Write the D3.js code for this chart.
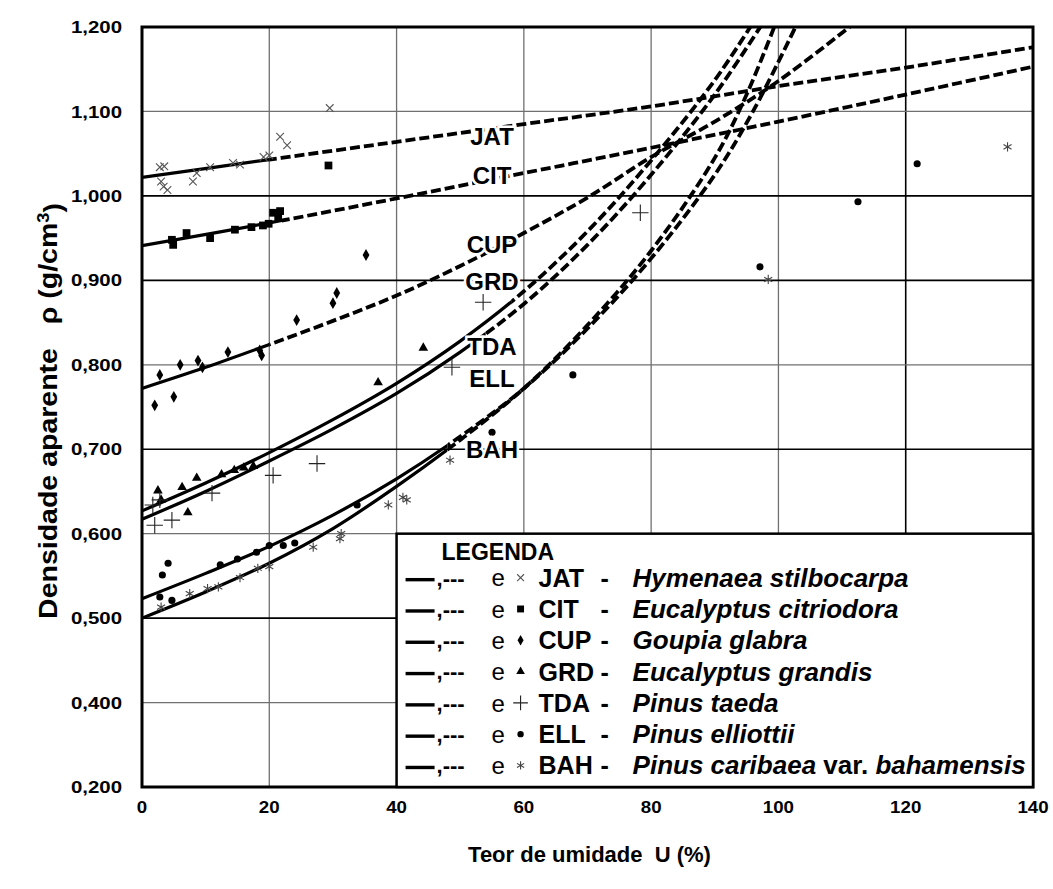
<!DOCTYPE html>
<html>
<head>
<meta charset="utf-8">
<script src="https://cdn.jsdelivr.net/npm/d3@7"></script>
<style>
  body { margin: 0; background: #fff; }
  text { font-family: "Liberation Sans", Arial, Helvetica, sans-serif; white-space: pre; }
</style>
</head>
<body>
<svg id="chart" width="1053" height="889"></svg>
<script>
// ---- species ----
const codes = ["JAT", "CIT", "CUP", "GRD", "TDA", "ELL", "BAH"];
const speciesNames = ["Hymenaea stilbocarpa", "Eucalyptus citriodora", "Goupia glabra",
  "Eucalyptus grandis", "Pinus taeda", "Pinus elliottii", "Pinus caribaea var. bahamensis"];

// ---- fitted curves: [moisture U (%), apparent density (g/cm3)] ----
const fitJAT = [[0,1.022],[20,1.043],[40,1.064],[60,1.085],[80,1.106],[100,1.130],[120,1.152],[140,1.176]];
const fitCIT = [[0,0.941],[20,0.968],[40,0.997],[60,1.027],[80,1.057],[100,1.088],[120,1.120],[140,1.153]];
const fitCUP = [[0,0.772],[10,0.797],[20,0.824],[30,0.852],[40,0.882],[50,0.917],[60,0.956],[70,0.998],[80,1.046],[90,1.088],[100,1.136],[112,1.205]];
const fitGRD = [[0,0.627],[10,0.660],[20,0.696],[30,0.735],[40,0.778],[50,0.828],[60,0.887],[70,0.958],[80,1.042],[90,1.137],[96,1.205]];
const fitTDA = [[0,0.617],[10,0.650],[20,0.686],[30,0.724],[40,0.766],[50,0.815],[60,0.872],[70,0.942],[80,1.025],[90,1.120],[98,1.210]];
const fitELL = [[0,0.523],[10,0.553],[20,0.585],[30,0.622],[40,0.665],[50,0.715],[60,0.772],[70,0.843],[80,0.926],[90,1.025],[96,1.100],[103,1.205]];
const fitBAH = [[0,0.500],[10,0.531],[20,0.565],[30,0.606],[40,0.656],[50,0.711],[60,0.772],[70,0.847],[80,0.935],[90,1.045],[95,1.120],[99.6,1.205]];
const fits = [fitJAT, fitCIT, fitCUP, fitGRD, fitTDA, fitELL, fitBAH];

// moisture up to which each curve is backed by measurements (solid), dashed beyond
const solidEnd = [20, 22, 20, 58, 54, 48, 48];

// ---- measured points: [U (%), density] ----
const obsJAT = [[2.8,1.034],[3.5,1.035],[3.0,1.017],[3.4,1.011],[4.0,1.007],[8.0,1.017],[8.6,1.027],
  [10.7,1.034],[14.3,1.039],[15.4,1.037],[19.1,1.046],[20.0,1.048],[21.7,1.070],[22.8,1.060],[29.5,1.104]];
const obsCIT = [[4.7,0.948],[4.9,0.942],[7.0,0.956],[10.7,0.950],[14.6,0.960],[17.2,0.963],[19.0,0.965],
  [19.9,0.967],[20.6,0.980],[21.7,0.982],[21.4,0.975],[29.3,1.036]];
const obsCUP = [[2.0,0.752],[2.8,0.788],[5.0,0.762],[6.0,0.800],[8.8,0.805],[9.5,0.797],[13.5,0.815],
  [18.5,0.817],[18.8,0.811],[24.3,0.853],[30.0,0.873],[30.6,0.885],[35.2,0.930]];
const obsGRD = [[2.5,0.651],[3.0,0.640],[6.3,0.655],[7.2,0.625],[8.6,0.666],[12.5,0.670],[14.5,0.675],
  [16.0,0.678],[17.5,0.680],[37.1,0.779],[44.2,0.820]];
const obsTDA = [[1.7,0.634],[2.0,0.610],[2.8,0.640],[4.7,0.616],[11.0,0.648],[20.6,0.669],[27.5,0.683],
  [48.7,0.797],[53.6,0.874],[78.3,0.980]];
const obsELL = [[2.8,0.525],[3.2,0.551],[4.1,0.565],[4.7,0.521],[12.3,0.563],[15.0,0.570],[18.0,0.578],
  [20.0,0.586],[22.2,0.586],[24.0,0.589],[33.8,0.634],[55.0,0.720],[67.7,0.788],[97.1,0.916],
  [112.5,0.993],[121.8,1.038]];
const obsBAH = [[3.0,0.513],[7.5,0.529],[10.3,0.535],[12.0,0.537],[15.4,0.548],[18.2,0.559],[20.0,0.561],
  [26.9,0.584],[31.1,0.594],[31.3,0.600],[38.7,0.634],[41.0,0.643],[41.6,0.640],[48.4,0.687],
  [98.4,0.901],[136.0,1.058]];
const observations = [obsJAT, obsCIT, obsCUP, obsGRD, obsTDA, obsELL, obsBAH];

// curve name tags placed on the curves: [U, density]
const tagPos = [[55,1.070],[55,1.024],[55,0.943],[55,0.899],[55,0.822],[55,0.784],[55,0.700]];

// ---- axes ----
const xTicks = [0, 20, 40, 60, 80, 100, 120, 140];
const yTicks = [0.3, 0.4, 0.5, 0.6, 0.7, 0.8, 0.9, 1.0, 1.1, 1.2];
const yTickLabels = ["0,200", "0,400", "0,500", "0,600", "0,700", "0,800", "0,900", "1,000", "1,100", "1,200"];
const xTitle = "Teor de umidade  U (%)";
const yTitle = "Densidade aparente   \u03c1 (g/cm";
const legendTitle = "LEGENDA";

// ---------------------------------------------------------------
const svg = d3.select("#chart");
const W = 1053, H = 889;
const m = { left: 142, top: 27, right: 20, bottom: 102 };

const x = d3.scaleLinear().domain([0, 140]).range([m.left, W - m.right]);
const y = d3.scaleLinear().domain([0.3, 1.2]).range([H - m.bottom, m.top]);

svg.append("rect").attr("width", W).attr("height", H).attr("fill", "#fff");

const defs = svg.append("defs");
defs.append("clipPath").attr("id", "plotClip").append("rect")
  .attr("x", x(0)).attr("y", y(1.2)).attr("width", x(140) - x(0)).attr("height", y(0.3) - y(1.2));

// stretch a text element horizontally by a factor
function widen(sel, k) {
  sel.each(function () {
    const len = this.getComputedTextLength();
    d3.select(this).attr("textLength", len * k).attr("lengthAdjust", "spacingAndGlyphs");
  });
}

// grid lines: some darker, some lighter
const darkH = [1.0, 0.9, 0.7, 0.5];
const isDark = t => darkH.some(d => Math.abs(d - t) < 1e-6);
const grid = svg.append("g");
xTicks.slice(1, -1).forEach(t => {
  grid.append("line")
    .attr("x1", x(t)).attr("x2", x(t)).attr("y1", y(1.2)).attr("y2", y(0.3))
    .attr("stroke", t === 120 ? "#000" : "#707070").attr("stroke-width", t === 120 ? 1.6 : 1.3);
});
yTicks.slice(1, -1).forEach(t => {
  grid.append("line")
    .attr("x1", x(0)).attr("x2", x(140)).attr("y1", y(t)).attr("y2", y(t))
    .attr("stroke", isDark(t) ? "#000" : "#707070")
    .attr("stroke-width", isDark(t) ? 1.6 : 1.3);
});

// ---- curves ----
const lineGen = d3.line().x(d => x(d[0])).y(d => y(d[1])).curve(d3.curveCatmullRom.alpha(0.5));
const curves = svg.append("g").attr("clip-path", "url(#plotClip)");
fits.forEach((pts, i) => {
  const cs = defs.append("clipPath").attr("id", "solid" + i);
  cs.append("rect").attr("x", x(0)).attr("y", 0).attr("width", x(solidEnd[i]) - x(0)).attr("height", H);
  const cd = defs.append("clipPath").attr("id", "dash" + i);
  cd.append("rect").attr("x", x(solidEnd[i])).attr("y", 0).attr("width", W).attr("height", H);

  curves.append("path").attr("d", lineGen(pts)).attr("fill", "none")
    .attr("stroke", "#000").attr("stroke-width", 3.2)
    .attr("clip-path", `url(#solid${i})`);
  curves.append("path").attr("d", lineGen(pts)).attr("fill", "none")
    .attr("stroke", "#000").attr("stroke-width", 3.8).attr("stroke-dasharray", "10,4")
    .attr("clip-path", `url(#dash${i})`);
});

// ---- markers ----
const markerDefs = [
  { type: d3.symbolTimes, size: 40, fill: "none", stroke: "#555", sw: 1.1 },
  { type: d3.symbolSquare, size: 60, fill: "#000", stroke: "none", sw: 0 },
  { type: d3.symbolDiamond, size: 40, fill: "#000", stroke: "none", sw: 0 },
  { type: d3.symbolTriangle, size: 40, fill: "#000", stroke: "none", sw: 0 },
  { type: d3.symbolPlus, size: 90, fill: "none", stroke: "#222", sw: 1.1 },
  { type: d3.symbolCircle, size: 40, fill: "#000", stroke: "none", sw: 0 },
  { type: d3.symbolAsterisk, size: 60, fill: "none", stroke: "#444", sw: 1.1 }
];
const pointsG = svg.append("g").attr("clip-path", "url(#plotClip)");
observations.forEach((obs, i) => {
  const md = markerDefs[i];
  pointsG.selectAll(null).data(obs).join("path")
    .attr("transform", d => `translate(${x(d[0])},${y(d[1])})`)
    .attr("d", d3.symbol().type(md.type).size(md.size))
    .attr("fill", md.fill).attr("stroke", md.stroke).attr("stroke-width", md.sw);
});

// ---- curve tags ----
svg.append("g").selectAll("text").data(codes).join("text")
  .attr("x", (d, i) => x(tagPos[i][0]))
  .attr("y", (d, i) => y(tagPos[i][1]))
  .attr("dy", "0.36em")
  .attr("text-anchor", "middle")
  .attr("font-size", 24).attr("font-weight", "bold")
  .attr("stroke", "#fff").attr("stroke-width", 5).attr("paint-order", "stroke")
  .attr("fill", "#000")
  .text(d => d);

// ---- frame ----
svg.append("rect")
  .attr("x", x(0)).attr("y", y(1.2)).attr("width", x(140) - x(0)).attr("height", y(0.3) - y(1.2))
  .attr("fill", "none").attr("stroke", "#000").attr("stroke-width", 3);

// ---- axes labels ----
const yAxisG = svg.append("g");
yTicks.forEach((t, i) => {
  yAxisG.append("text")
    .attr("x", x(0) - 20).attr("y", y(t)).attr("dy", "0.36em")
    .attr("text-anchor", "end").attr("font-size", 17).attr("font-weight", "bold")
    .text(yTickLabels[i]);
});
widen(yAxisG.selectAll("text"), 1.2);
const xAxisG = svg.append("g");
xTicks.forEach(t => {
  xAxisG.append("text")
    .attr("x", x(t)).attr("y", y(0.3) + 26)
    .attr("text-anchor", "middle").attr("font-size", 17).attr("font-weight", "bold")
    .text(t);
});
widen(xAxisG.selectAll("text"), 1.1);

svg.append("text")
  .attr("x", (x(0) + x(140)) / 2 + 2).attr("y", 862)
  .attr("text-anchor", "middle").attr("font-size", 22).attr("font-weight", "bold")
  .text(xTitle);

// y title: rotated, stretched along its run
const yt = svg.append("text")
  .attr("transform", `translate(57,411) rotate(-90)`)
  .attr("text-anchor", "middle").attr("font-size", 25).attr("font-weight", "bold");
yt.append("tspan").text(yTitle);
yt.append("tspan").attr("dy", "-0.5em").attr("font-size", 16).text("3");
yt.append("tspan").attr("dy", "0.5em").text(")");
widen(yt, 1.14);

// ---- legend box ----
const lg = svg.append("g");
lg.append("rect")
  .attr("x", x(40)).attr("y", y(0.6)).attr("width", x(140) - x(40)).attr("height", y(0.3) - y(0.6))
  .attr("fill", "#fff").attr("stroke", "#000").attr("stroke-width", 2.5);
lg.append("text").attr("x", x(40) + 45).attr("y", y(0.6) + 18).attr("dy", "0.36em")
  .attr("font-size", 23).attr("font-weight", "bold").text(legendTitle);

const rowY0 = y(0.6) + 44, rowStep = 31.3;
codes.forEach((c, i) => {
  const cy = rowY0 + i * rowStep;
  const lx = x(40);
  lg.append("line").attr("x1", lx + 9).attr("x2", lx + 38).attr("y1", cy + 2).attr("y2", cy + 2)
    .attr("stroke", "#000").attr("stroke-width", 3.4);
  lg.append("text").attr("x", lx + 40).attr("y", cy).attr("dy", "0.36em")
    .attr("font-size", 22).attr("font-weight", "bold").text(",---");
  lg.append("text").attr("x", lx + 95).attr("y", cy).attr("dy", "0.36em")
    .attr("font-size", 24).text("e");
  const md = markerDefs[i];
  lg.append("path")
    .attr("transform", `translate(${lx + 124},${cy})`)
    .attr("d", d3.symbol().type(md.type).size(md.size * 0.8))
    .attr("fill", md.fill).attr("stroke", md.stroke).attr("stroke-width", md.sw);
  lg.append("text").attr("x", lx + 142).attr("y", cy).attr("dy", "0.36em")
    .attr("font-size", 25).attr("font-weight", "bold").text(c);
  lg.append("text").attr("x", lx + 204).attr("y", cy).attr("dy", "0.36em")
    .attr("font-size", 25).attr("font-weight", "bold").text("-");
  const nm = lg.append("text").attr("x", lx + 236).attr("y", cy).attr("dy", "0.36em")
    .attr("font-size", 25).attr("font-weight", "bold");
  const parts = speciesNames[i].split(" var. ");
  nm.append("tspan").attr("font-style", "italic").text(parts[0]);
  if (parts.length > 1) {
    nm.append("tspan").text(" var. ");
    nm.append("tspan").attr("font-style", "italic").text(parts[1]);
  }
  widen(nm, 1.04);
});
</script>
</body>
</html>
